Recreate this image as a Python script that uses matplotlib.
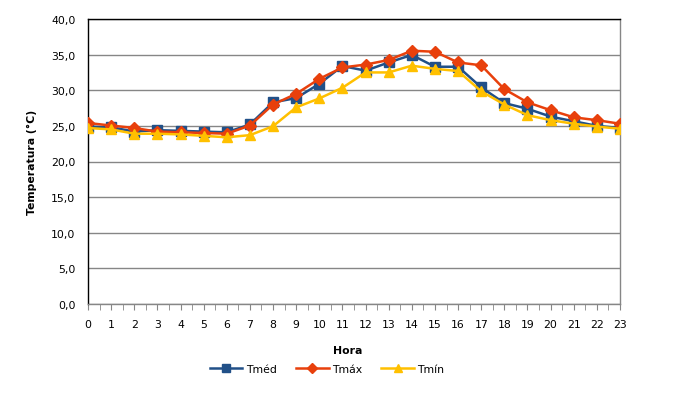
import matplotlib
matplotlib.use("Agg")
import matplotlib.pyplot as plt
from matplotlib.ticker import MultipleLocator, FuncFormatter

hours = list(range(24))
t_med = [24.9, 24.8, 24.2, 24.4, 24.3, 24.2, 24.1, 25.2, 28.3, 28.9, 30.9, 33.4,
         32.75, 33.9, 34.95, 33.3, 33.3, 30.4, 28.2, 27.4, 26.3, 25.65, 25.0, 24.7]
t_max = [25.4, 25.05, 24.7, 24.2, 24.1, 24.0, 23.9, 25.05, 28.0, 29.5, 31.6, 33.2,
         33.6, 34.25, 35.55, 35.4, 33.9, 33.5, 30.15, 28.3, 27.2, 26.2, 25.8, 25.3]
t_min = [24.7, 24.5, 23.9, 23.9, 23.8, 23.6, 23.4, 23.7, 24.95, 27.6, 28.85, 30.35,
         32.5, 32.5, 33.45, 33.0, 32.7, 29.85, 28.0, 26.5, 25.8, 25.3, 24.9, 24.6]
series_names = ["Tméd", "Tmáx", "Tmín"]
y_ticks = [0, 5, 10, 15, 20, 25, 30, 35, 40]

plt.rcParams['font.family'] = ['DejaVu Sans']
fig = plt.figure(figsize=(6.75, 4.02), dpi=100)
ax = fig.add_axes([88/675, 1-305/402, (620-88)/675, (305-20)/402])

ax.plot(hours, t_med, color='#215088', lw=1.8, marker='s', ms=6.5, label=series_names[0], zorder=3)
ax.plot(hours, t_max, color='#E8400C', lw=1.8, marker='D', ms=6, label=series_names[1], zorder=4)
ax.plot(hours, t_min, color='#FFC000', lw=1.8, marker='^', ms=7, label=series_names[2], zorder=5)

ax.set_xlim(0, 23)
ax.set_ylim(0, 40)
ax.set_yticks(y_ticks)
ax.yaxis.set_major_formatter(FuncFormatter(lambda v, p: f"{v:.1f}".replace('.', ',')))
ax.set_xticks(hours)
ax.xaxis.set_minor_locator(MultipleLocator(0.5))
ax.grid(axis='y', color='#868686', lw=1.0)
ax.set_axisbelow(True)

for s in ['left', 'top']:
    ax.spines[s].set_color('black')
for s in ['right', 'bottom']:
    ax.spines[s].set_color('#868686')
for s in ax.spines.values():
    s.set_linewidth(1.0)

ax.tick_params(axis='y', length=0, pad=9, labelsize=7.8)
ax.tick_params(axis='x', which='both', length=4, color='#868686', direction='out', labelsize=7.8, pad=7)
ax.tick_params(axis='x', which='minor', length=4)

ax.set_ylabel("Temperatura (°C)", fontsize=7.8, fontweight='bold', labelpad=10)
fig.text(348/675, 1-351/402, "Hora", ha='center', va='center', fontsize=7.8, fontweight='bold')

fig.legend(loc='center', bbox_to_anchor=(327/675, 1-370/402), ncol=3, frameon=False,
           fontsize=7.8, handlelength=3, columnspacing=1.8, handletextpad=0.3, markerscale=0.9)

fig.savefig("out.png", dpi=100)
